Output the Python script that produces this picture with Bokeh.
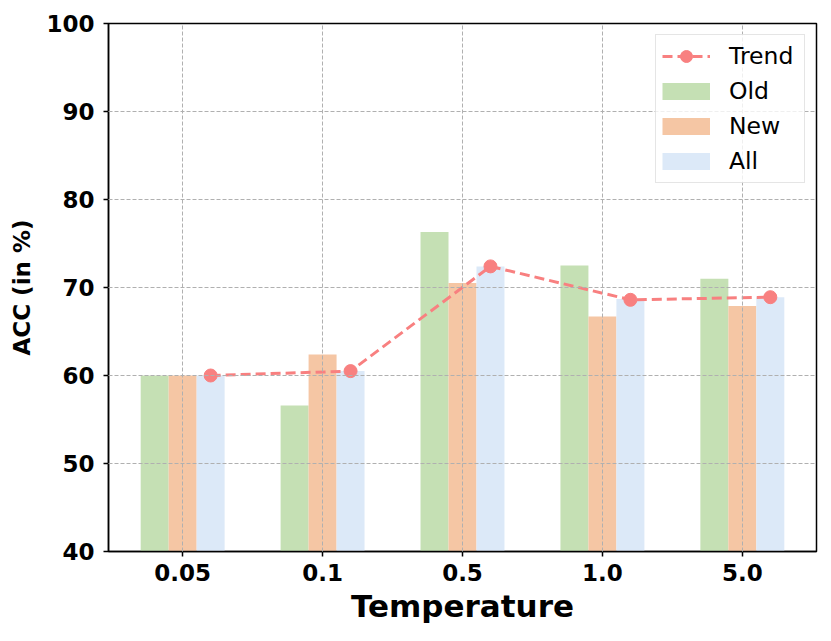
from bokeh.plotting import figure
from bokeh.models import FactorRange, Range1d, Legend, LegendItem, ColumnDataSource
from bokeh.transform import dodge
from bokeh.embed import file_html
from bokeh.resources import INLINE

temps = ["0.05", "0.1", "0.5", "1.0", "5.0"]
old_vals = [60.0, 56.6, 76.3, 72.5, 71.0]
new_vals = [60.0, 62.4, 70.5, 66.7, 67.9]
all_vals = [60.0, 60.5, 72.4, 68.7, 68.9]
trend_vals = [60.0, 60.5, 72.4, 68.6, 68.9]
y_ticks = [40, 50, 60, 70, 80, 90, 100]

C_OLD = "#c5e0b4"
C_NEW = "#f5c6a4"
C_ALL = "#dce9f8"
C_TREND = "#f88080"
FONT = "DejaVu Sans"

src = ColumnDataSource(dict(t=temps, old=old_vals, new=new_vals, all=all_vals, trend=trend_vals))

p = figure(x_range=FactorRange(factors=temps, range_padding=0.012),
           y_range=Range1d(40, 100),
           frame_width=708, frame_height=528,
           min_border_left=108, min_border_right=15, min_border_top=23, min_border_bottom=90,
           output_backend="svg", toolbar_location=None)

r_old = p.vbar(x=dodge("t", -0.2, range=p.x_range), top="old", bottom=40, width=0.2,
               source=src, fill_color=C_OLD, line_color=None)
r_new = p.vbar(x=dodge("t", 0.0, range=p.x_range), top="new", bottom=40, width=0.2,
               source=src, fill_color=C_NEW, line_color=None)
r_all = p.vbar(x=dodge("t", 0.2, range=p.x_range), top="all", bottom=40, width=0.2,
               source=src, fill_color=C_ALL, line_color=None)
r_line = p.line(x=dodge("t", 0.2, range=p.x_range), y="trend", source=src,
                line_color=C_TREND, line_width=3, line_dash="10 5")
r_pts = p.scatter(x=dodge("t", 0.2, range=p.x_range), y="trend", source=src,
                  size=13, fill_color=C_TREND, line_color=C_TREND)

# legend swatches: proxy line renderers holding no visible data
proxy = ColumnDataSource(dict(x=[temps[0]], y=[float("nan")]))
sw_old = p.line(x="x", y="y", source=proxy, line_color=C_OLD, line_width=17)
sw_new = p.line(x="x", y="y", source=proxy, line_color=C_NEW, line_width=17)
sw_all = p.line(x="x", y="y", source=proxy, line_color=C_ALL, line_width=17)

legend = Legend(items=[
    LegendItem(label="Trend", renderers=[r_line, r_pts]),
    LegendItem(label="Old", renderers=[sw_old]),
    LegendItem(label="New", renderers=[sw_new]),
    LegendItem(label="All", renderers=[sw_all]),
], location="top_right")
legend.margin = 11
legend.padding = 6
legend.spacing = 5
legend.glyph_width = 48
legend.glyph_height = 30
legend.label_height = 28
legend.label_width = 69
legend.label_standoff = 19
legend.label_text_font = FONT
legend.label_text_font_size = "23.5px"
legend.label_text_color = "black"
legend.border_line_color = "#cccccc"
legend.border_line_width = 1.5
legend.background_fill_alpha = 0.8
p.add_layout(legend)

p.outline_line_color = "black"
p.outline_line_width = 1.5

for ax in (p.xaxis, p.yaxis):
    ax.axis_line_color = "black"
    ax.axis_line_width = 1.5
    ax.major_tick_line_color = "black"
    ax.major_tick_line_width = 1.5
    ax.major_tick_out = 5
    ax.major_tick_in = 0
    ax.minor_tick_line_color = None
    ax.major_label_text_font = FONT
    ax.major_label_text_font_style = "bold"
    ax.major_label_text_font_size = "23px"
    ax.major_label_text_color = "black"
    ax.axis_label_text_font = FONT
    ax.axis_label_text_font_style = "bold"
    ax.axis_label_text_color = "black"

p.yaxis.ticker = y_ticks
p.xaxis.axis_label = "Temperature"
p.xaxis.axis_label_text_font_size = "31px"
p.xaxis.major_label_standoff = 7
p.xaxis.axis_label_standoff = 4
p.yaxis.axis_label = "ACC (in %)"
p.yaxis.axis_label_text_font_size = "23px"
p.yaxis.major_label_standoff = 9
p.yaxis.axis_label_standoff = 8

for g in (p.xgrid, p.ygrid):
    g.grid_line_color = "#b0b0b0"
    g.grid_line_dash = "4 2"
    g.grid_line_width = 1
    g.level = "guide"

open("out.html", "w").write(file_html(p, INLINE))
